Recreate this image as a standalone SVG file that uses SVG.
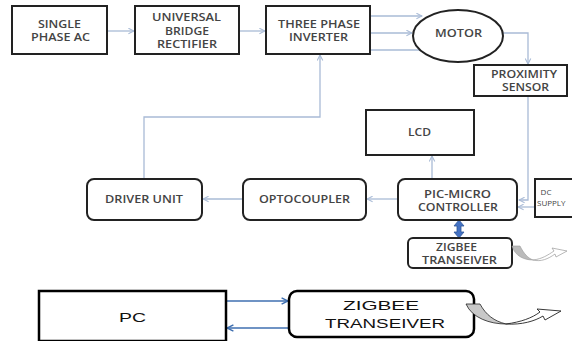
<svg xmlns="http://www.w3.org/2000/svg" width="572" height="341" viewBox="0 0 572 341">
<defs>
<style>
.box{fill:#fff;stroke:#222;stroke-width:2}
.t{font-family:"Open Sans","Liberation Sans",sans-serif;font-weight:600;font-size:10px;fill:#444;text-anchor:middle}
.tb{font-family:"Liberation Sans","DejaVu Sans",sans-serif;font-size:13px;fill:#111;text-anchor:middle}
.c{fill:none;stroke:#a9bbd6;stroke-width:1.3}
.cb{fill:none;stroke:#3f6fb0;stroke-width:1.5}
</style>
<marker id="a" viewBox="0 0 10 10" refX="9" refY="5" markerWidth="7" markerHeight="7" orient="auto" markerUnits="userSpaceOnUse">
<path d="M1,1 L9,5 L1,9" fill="none" stroke="#a9bbd6" stroke-width="1.5"/>
</marker>
<marker id="ab" viewBox="0 0 10 10" refX="9" refY="5" markerWidth="8" markerHeight="8" orient="auto" markerUnits="userSpaceOnUse">
<path d="M1,1 L9,5 L1,9" fill="none" stroke="#3f6fb0" stroke-width="1.8"/>
</marker>
</defs>
<rect width="572" height="341" fill="#fff"/>
<g id="connectors">
<line class="c" x1="107" y1="31" x2="134" y2="31" marker-end="url(#a)"/>
<line class="c" x1="239" y1="31" x2="265" y2="31" marker-end="url(#a)"/>
<line class="c" x1="370" y1="16" x2="422" y2="16" marker-end="url(#a)"/>
<line class="c" x1="370" y1="33" x2="412" y2="33" marker-end="url(#a)"/>
<line class="c" x1="370" y1="50" x2="426" y2="50"/>
<polyline class="c" points="503,33 528,33 528,64" marker-end="url(#a)"/>
<polyline class="c" points="528,96 528,200 519,200" marker-end="url(#a)"/>
<line class="c" x1="535" y1="207" x2="518" y2="207" marker-end="url(#a)"/>
<line class="c" x1="432" y1="179" x2="432" y2="156" marker-end="url(#a)"/>
<line class="c" x1="398" y1="199" x2="367" y2="199" marker-end="url(#a)"/>
<line class="c" x1="243" y1="199" x2="203" y2="199" marker-end="url(#a)"/>
<polyline class="c" points="144,179 144,117 320,117 320,55" marker-end="url(#a)"/>
<path d="M459,220 L464,226 L461,226 L461,232 L464,232 L459,238 L454,232 L457,232 L457,226 L454,226 Z" fill="#4472c4" stroke="#2f5597" stroke-width="0.8"/>
<line class="cb" x1="226" y1="301" x2="288" y2="301" marker-end="url(#ab)"/>
<line class="cb" x1="288" y1="328" x2="227" y2="328" marker-end="url(#ab)"/>
</g>
<g id="single-phase-ac"><rect class="box" x="12" y="6" width="95" height="48"/><text class="t" x="59.5" y="28" textLength="43" lengthAdjust="spacingAndGlyphs">SINGLE</text><text class="t" x="60.5" y="41" textLength="59" lengthAdjust="spacingAndGlyphs">PHASE AC</text></g>
<g id="rectifier"><rect class="box" x="135" y="6" width="104" height="48"/><text class="t" x="186.5" y="21" textLength="69" lengthAdjust="spacingAndGlyphs">UNIVERSAL</text><text class="t" x="187" y="35" textLength="44" lengthAdjust="spacingAndGlyphs">BRIDGE</text><text class="t" x="187" y="48" textLength="60" lengthAdjust="spacingAndGlyphs">RECTIFIER</text></g>
<g id="inverter"><rect class="box" x="266" y="6" width="104" height="48"/><text class="t" x="319" y="28" textLength="82" lengthAdjust="spacingAndGlyphs">THREE PHASE</text><text class="t" x="318.5" y="41" textLength="59" lengthAdjust="spacingAndGlyphs">INVERTER</text></g>
<g id="motor"><ellipse class="box" cx="458" cy="36" rx="45" ry="26"/><text class="t" x="458.5" y="37" textLength="47" lengthAdjust="spacingAndGlyphs">MOTOR</text></g>
<g id="proximity-sensor"><rect class="box" x="474" y="65" width="93" height="31"/><text class="t" x="524" y="78" textLength="66" lengthAdjust="spacingAndGlyphs">PROXIMITY</text><text class="t" x="525.5" y="91" textLength="47" lengthAdjust="spacingAndGlyphs">SENSOR</text></g>
<g id="lcd"><rect class="box" x="366" y="110" width="108" height="45"/><text class="t" x="419.5" y="136" textLength="23" lengthAdjust="spacingAndGlyphs">LCD</text></g>
<g id="pic"><rect class="box" x="398" y="179" width="119" height="41" rx="7"/><text class="t" x="457.5" y="198" textLength="67" lengthAdjust="spacingAndGlyphs">PIC-MICRO</text><text class="t" x="458" y="211" textLength="80" lengthAdjust="spacingAndGlyphs">CONTROLLER</text></g>
<g id="dc-supply"><rect class="box" x="535" y="179" width="40" height="38"/><text class="t" x="546" y="195" style="font-size:8px;font-weight:400">DC</text><text class="t" x="537" y="206" style="font-size:8px;font-weight:400;text-anchor:start">SUPPLY</text></g>
<g id="optocoupler"><rect class="box" x="243" y="179" width="123" height="41" rx="7"/><text class="t" x="304.5" y="203" textLength="91" lengthAdjust="spacingAndGlyphs">OPTOCOUPLER</text></g>
<g id="driver-unit"><rect class="box" x="87" y="179" width="115" height="41" rx="7"/><text class="t" x="144" y="203" textLength="78" lengthAdjust="spacingAndGlyphs">DRIVER UNIT</text></g>
<g id="zigbee-1"><rect class="box" x="408" y="238" width="104" height="30" rx="5"/><text class="t" x="456.5" y="251" textLength="41" lengthAdjust="spacingAndGlyphs">ZIGBEE</text><text class="t" x="459.5" y="264" textLength="75" lengthAdjust="spacingAndGlyphs">TRANSEIVER</text>
<path d="M512,246 L520,246 C524,254 528,258 533,260 C524,260 515,256 512,246 Z" fill="#bbb" stroke="#999" stroke-width="0.6"/>
<path d="M533,260 C542,259 548,255 554,251 L552,248 L567,251 L556,257 L555,254 C548,259 541,262 533,260 Z" fill="#fff" stroke="#999" stroke-width="0.7"/>
</g>
<g id="pc"><rect x="39" y="291" width="187" height="50" fill="#fff" stroke="#000" stroke-width="2.5"/><text class="tb" x="132.5" y="322" textLength="27" lengthAdjust="spacingAndGlyphs">PC</text></g>
<g id="zigbee-2"><rect x="289" y="291" width="185" height="46" rx="8" fill="#fff" stroke="#000" stroke-width="2.5"/><text class="tb" x="381" y="310" textLength="76" lengthAdjust="spacingAndGlyphs">ZIGBEE</text><text class="tb" x="385" y="328" textLength="120" lengthAdjust="spacingAndGlyphs">TRANSEIVER</text>
<path d="M466,304 L480,304 C486,315 494,321 506,324 C490,324 472,318 466,304 Z" fill="#c8c8c8" stroke="#222" stroke-width="0.8"/>
<path d="M506,324 C521,322 532,318 540,312 L537,309 L561,311 L545,320 L543,316 C535,321 522,325 506,324 Z" fill="#fff" stroke="#222" stroke-width="0.9"/>
</g>
</svg>
